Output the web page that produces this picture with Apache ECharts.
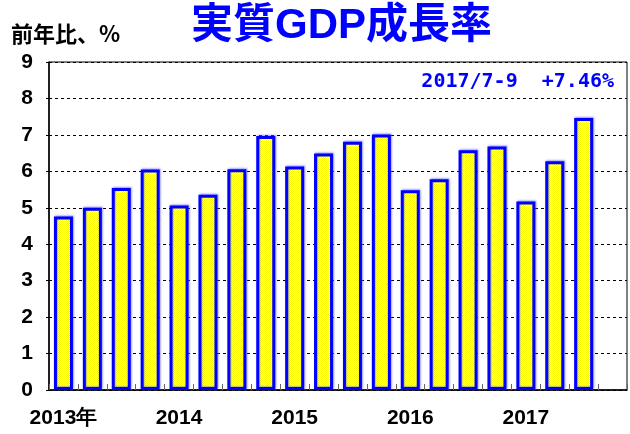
<!DOCTYPE html>
<html>
<head>
<meta charset="utf-8">
<style>
  html, body { margin: 0; padding: 0; background: #fff; }
  #chart { width: 630px; height: 434px; }
</style>
<script src="https://cdn.jsdelivr.net/npm/echarts@6/dist/echarts.min.js"></script>
</head>
<body>
<div id="chart"></div>
<script>
// quarters 2013 Q1 .. 2017 Q4 (last one not out yet)
var categories = [
  "2013年", "", "", "",
  "2014", "", "", "",
  "2015", "", "", "",
  "2016", "", "", "",
  "2017", "", "", ""
];
var growth = [
  4.76, 5.0, 5.54, 6.05,
  5.06, 5.36, 6.06, 6.97,
  6.13, 6.49, 6.81, 7.01,
  5.48, 5.78, 6.58, 6.68,
  5.17, 6.28, 7.46, null
];
var titleText = "実質GDP成長率";
var unitText = "前年比、%";
var noteText = "2017/7-9  +7.46%";

// yellow/white dither fill like the original
function checker() {
  var c = document.createElement("canvas");
  c.width = 2;
  c.height = 2;
  var ctx = c.getContext("2d");
  ctx.fillStyle = "#ffffff";
  ctx.fillRect(0, 0, 2, 2);
  ctx.fillStyle = "#ffff00";
  ctx.fillRect(0, 0, 1, 1);
  ctx.fillRect(1, 1, 1, 1);
  return c;
}

var myChart = echarts.init(document.getElementById("chart"));
var axisFont = "Liberation Sans, Arial, sans-serif";
var option = {
  backgroundColor: "#fff",
  animation: false,
  grid: {
    left: 49,
    right: 3,
    top: 62,
    bottom: 44,
    show: true,
    borderColor: "#000",
    borderWidth: 1
  },
  graphic: [
    {
      type: "text",
      left: 191,
      top: 5,
      style: {
        text: titleText,
        fill: "#0000ff",
        font: "bold 42px 'Liberation Sans', 'Noto Sans CJK JP', sans-serif"
      }
    },
    {
      type: "text",
      left: 11,
      top: 23,
      style: {
        text: unitText,
        fill: "#000",
        font: "bold 22px 'Noto Sans CJK JP', sans-serif"
      }
    },
    {
      type: "text",
      right: 16,
      top: 72,
      style: {
        text: noteText,
        fill: "#0000ff",
        font: "bold 20px 'DejaVu Sans Mono', monospace"
      }
    }
  ],
  xAxis: {
    type: "category",
    data: categories,
    boundaryGap: true,
    axisLine: { lineStyle: { color: "#000", width: 1.5 } },
    axisTick: {
      show: true,
      interval: 0,
      inside: true,
      length: 6,
      lineStyle: { color: "#666" }
    },
    axisLabel: {
      interval: 0,
      margin: 18,
      color: "#000",
      fontSize: 21,
      fontWeight: "bold",
      fontFamily: axisFont
    }
  },
  yAxis: {
    type: "value",
    min: 0,
    max: 9,
    interval: 1,
    axisLine: { show: true, lineStyle: { color: "#000", width: 1.5 } },
    axisTick: { show: true, length: 3, lineStyle: { color: "#000" } },
    splitLine: {
      lineStyle: { color: "#000", type: [3, 3], width: 1 }
    },
    axisLabel: {
      margin: 16,
      color: "#000",
      fontSize: 21,
      fontWeight: "bold",
      fontFamily: axisFont
    }
  },
  series: [
    {
      type: "bar",
      data: growth,
      barWidth: 19,
      itemStyle: {
        color: { image: checker(), repeat: "repeat" },
        borderColor: "#0000ff",
        borderWidth: 3,
        shadowColor: "rgba(90,90,255,0.55)",
        shadowBlur: 2,
        shadowOffsetX: 1,
        shadowOffsetY: -1
      }
    }
  ]
};
myChart.setOption(option);
</script>
</body>
</html>
